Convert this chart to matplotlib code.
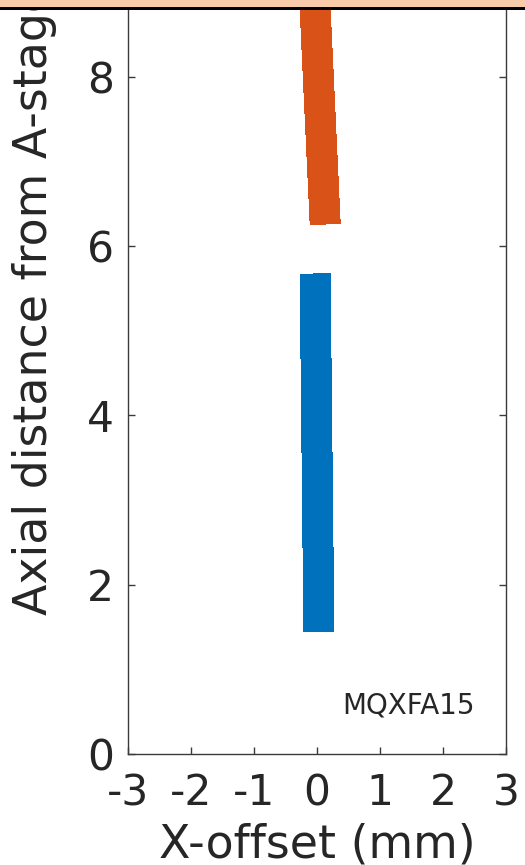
import matplotlib
matplotlib.use('Agg')
import matplotlib.pyplot as plt
from matplotlib.patches import Rectangle

# two straight runs: x-offset (mm) at the ends of each axial stretch (m)
blue_x = [0.03, -0.03]
blue_y = [1.45, 5.67]
orange_x = [0.13, -0.105]
orange_y = [6.26, 10.0]

x_ticks = [-3, -2, -1, 0, 1, 2, 3]
y_ticks = [0, 2, 4, 6, 8]
magnet = 'MQXFA15'

W, H = 525, 865
plt.rcParams['font.family'] = 'DejaVu Sans'

fig = plt.figure(figsize=(W / 100, H / 100), dpi=100)
fig.patch.set_facecolor('white')

# axes: left spine at 128 px, right at 506 px, bottom at 754 px, top above the crop
ax = fig.add_axes([128 / W, 111 / H, 378 / W, 846.6 / H])
ax.plot(blue_x, blue_y, color='#0072BD', lw=21.6, solid_capstyle='butt',
        antialiased=False)
ax.plot(orange_x, orange_y, color='#D95319', lw=21.6, solid_capstyle='butt',
        antialiased=False)

ax.set_xlim(-3, 3)
ax.set_ylim(0, 10)
ax.set_xticks(x_ticks)
ax.set_xticklabels([str(t) for t in x_ticks])
ax.set_yticks(y_ticks)
ax.set_yticklabels([str(t) for t in y_ticks])

for s in ax.spines.values():
    s.set_color('#3a3a3a')
    s.set_linewidth(1.0)
ax.tick_params(axis='both', direction='in', length=5, width=1.0,
               color='#3a3a3a', labelcolor='#262626', labelsize=30.5,
               top=True, right=True)
ax.tick_params(axis='x', pad=13)
ax.tick_params(axis='y', pad=10)

ax.text(0.40, 0.484, magnet, fontsize=20, color='#262626',
        ha='left', va='baseline')

fig.text(317 / W, (H - 857) / H, 'X-offset (mm)', fontsize=33,
         color='#262626', ha='center', va='baseline')
fig.text(47 / W, (H - 615) / H, 'Axial distance from A-stage (m)',
         fontsize=33, color='#262626', rotation=90, rotation_mode='anchor',
         ha='left', va='baseline')

# cropped window edge at the top
fig.patches.append(Rectangle((0, 1 - 7.5 / H), 1, 7.5 / H,
                             transform=fig.transFigure, facecolor='#F8CBAA',
                             edgecolor='none', zorder=10))
fig.patches.append(Rectangle((0, 1 - 9.5 / H), 1, 2.2 / H,
                             transform=fig.transFigure, facecolor='black',
                             edgecolor='none', zorder=10))

fig.savefig('out.png', dpi=100)
